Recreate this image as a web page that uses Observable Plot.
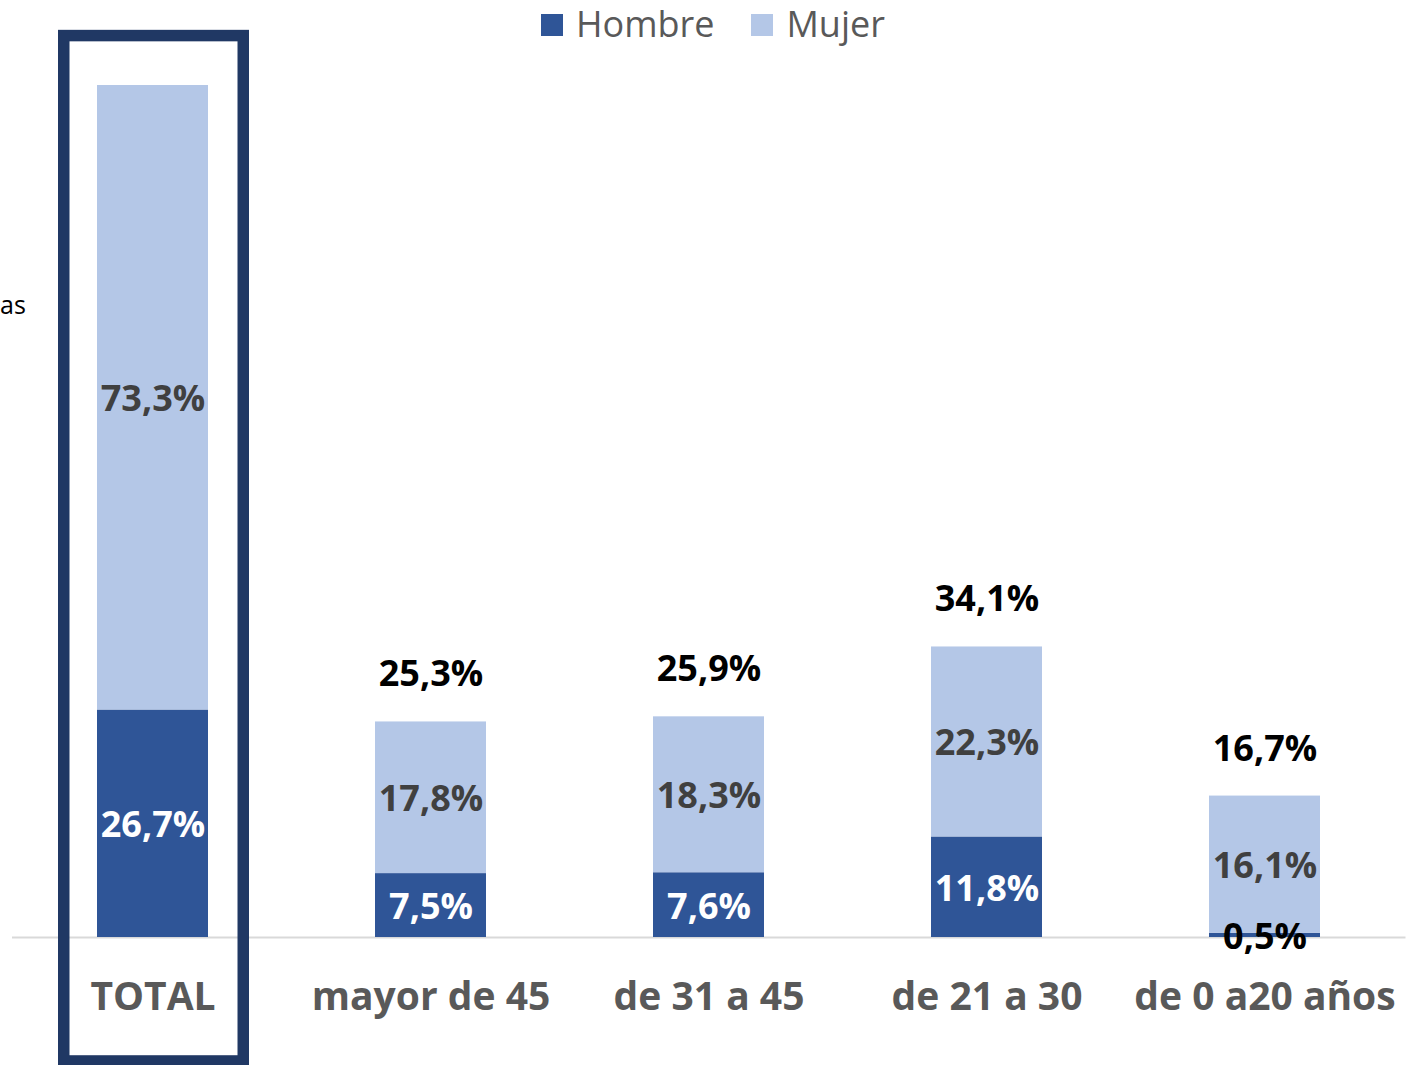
<!DOCTYPE html>
<html>
<head>
<meta charset="utf-8">
<script src="https://cdn.jsdelivr.net/npm/d3@7"></script>
<script src="https://cdn.jsdelivr.net/npm/@observablehq/plot@0.6"></script>
<style>
  html, body { margin: 0; padding: 0; background: #fff; }
  #wrap { position: relative; width: 1419px; height: 1065px; overflow: hidden; font-family: "Open Sans", sans-serif; }
  #legend { position: absolute; left: 541px; top: 3px; height: 50px; display: flex; align-items: center; font-size: 36px; line-height: 50px; color: #595959; }
  .sw { width: 22px; height: 22px; margin-right: 13px; transform: translateY(-3px); }
  .item { display: flex; align-items: center; margin-right: 37px; }
  .item span { position: relative; top: -4px; }
  #cut { position: absolute; left: 0; top: 287px; font-size: 25px; line-height: 34px; color: #000; white-space: nowrap; }
  #chart { position: absolute; left: 0; top: 0; }
</style>
</head>
<body>
<div id="wrap">
  <div id="chart"></div>
  <div id="legend"></div>
  <div id="cut">as</div>
</div>
<script>
const categories = ["TOTAL", "mayor de 45", "de 31 a 45", "de 21 a 30", "de 0 a20 años"];
const series = ["Hombre", "Mujer"];
const hombre = [26.7, 7.5, 7.6, 11.8, 0.5];
const mujer = [73.3, 17.8, 18.3, 22.3, 16.1];
const totals = [null, 25.3, 25.9, 34.1, 16.7];
const colors = ["#2F5597", "#B4C7E7"];
const highlighted = "TOTAL";
const boxTop = 105.8, boxBottom = -14.55;

const fmt = v => v.toFixed(1).replace(".", ",") + "%";

const long = [];
categories.forEach((c, i) => {
  long.push({cat: c, series: "Hombre", value: hombre[i]});
  long.push({cat: c, series: "Mujer", value: mujer[i]});
});
const rows = categories.map((c, i) => ({cat: c, h: hombre[i], m: mujer[i], t: totals[i]}));

const chart = Plot.plot({
  width: 1419,
  height: 1065,
  marginLeft: 12,
  marginRight: 13.5,
  marginTop: 85,
  marginBottom: 128,
  style: {fontFamily: "Open Sans, sans-serif", background: "transparent"},
  x: {domain: categories, paddingInner: 0.6, paddingOuter: 0.3, label: null},
  y: {domain: [0, 100], axis: null},
  color: {domain: series, range: colors},
  marks: [
    Plot.ruleY([0], {stroke: "#D9D9D9", strokeWidth: 2}),
    Plot.barY(long, {x: "cat", y: "value", fill: "series"}),
    Plot.text(rows, {x: "cat", y: d => d.h + d.m / 2, text: d => fmt(d.m), fill: "#404040", fontSize: 36, fontWeight: "bold", dy: 2}),
    Plot.text(rows, {x: "cat", y: d => d.h / 2, text: d => fmt(d.h), fill: d => d.h < 2 ? "#000000" : "#ffffff", fontSize: 36, fontWeight: "bold", dy: 2}),
    Plot.text(rows.filter(d => d.t != null), {x: "cat", y: d => d.h + d.m, text: d => fmt(d.t), fill: "#000000", fontSize: 36, fontWeight: "bold", dy: -47}),
    Plot.barY([highlighted], {x: d => d, y1: boxBottom, y2: boxTop, fill: "none", stroke: "#203864", strokeWidth: 11.5, insetLeft: -33.25, insetRight: -35.25}),
    Plot.axisX({tickSize: 0, tickPadding: 45, fontSize: 39, fontWeight: "bold", fill: "#595959", label: null})
  ]
});
document.getElementById("chart").appendChild(chart);

const legend = document.getElementById("legend");
series.forEach((s, i) => {
  const item = document.createElement("div");
  item.className = "item";
  const sw = document.createElement("div");
  sw.className = "sw";
  sw.style.background = colors[i];
  const t = document.createElement("span");
  t.textContent = s;
  item.appendChild(sw);
  item.appendChild(t);
  legend.appendChild(item);
});
</script>
</body>
</html>
